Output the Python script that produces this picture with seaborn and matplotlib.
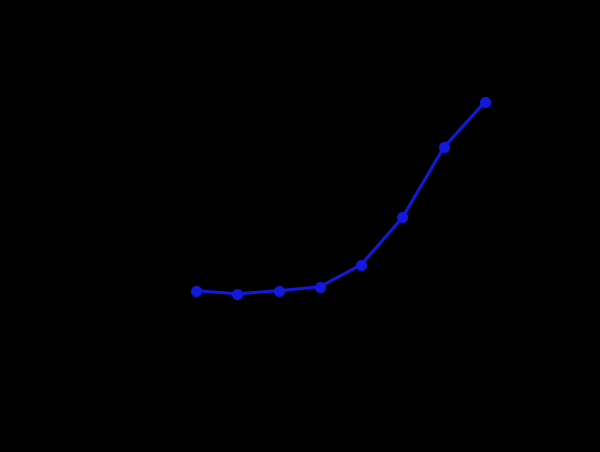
import numpy as np
import pandas as pd
import matplotlib
matplotlib.use('Agg')
import matplotlib.pyplot as plt
import seaborn as sns

# standard curve: concentration (two-fold dilutions) vs OD
conc = [0.78125, 1.5625, 3.125, 6.25, 12.5, 25, 50, 100]
od = [0.10, 0.06, 0.10, 0.15, 0.43, 1.03, 1.92, 2.50]

df = pd.DataFrame({'Concentration': conc, 'OD': od})

sns.set_style('ticks')
plt.rcParams['font.family'] = ['DejaVu Sans']

fig = plt.figure(figsize=(6, 4.525), dpi=100)
fig.patch.set_facecolor('black')
ax = fig.add_axes([0.25, 0.16, 0.63, 0.74])
ax.set_facecolor('black')

sns.lineplot(data=df, x='Concentration', y='OD', ax=ax, color='#1418dc',
             linewidth=2.2, marker='o', markersize=8, markeredgewidth=0)

ax.set_xscale('log', base=2)
ax.set_xlim(2 ** -1.47, 2 ** 7.685)
ax.set_ylim(-1.03, 3.225)

# original text/axes are black on a black (transparent) background
for s in ax.spines.values():
    s.set_color('black')
ax.tick_params(colors='black')
ax.xaxis.label.set_color('black')
ax.yaxis.label.set_color('black')

fig.savefig('out.png', dpi=100, facecolor='black')
